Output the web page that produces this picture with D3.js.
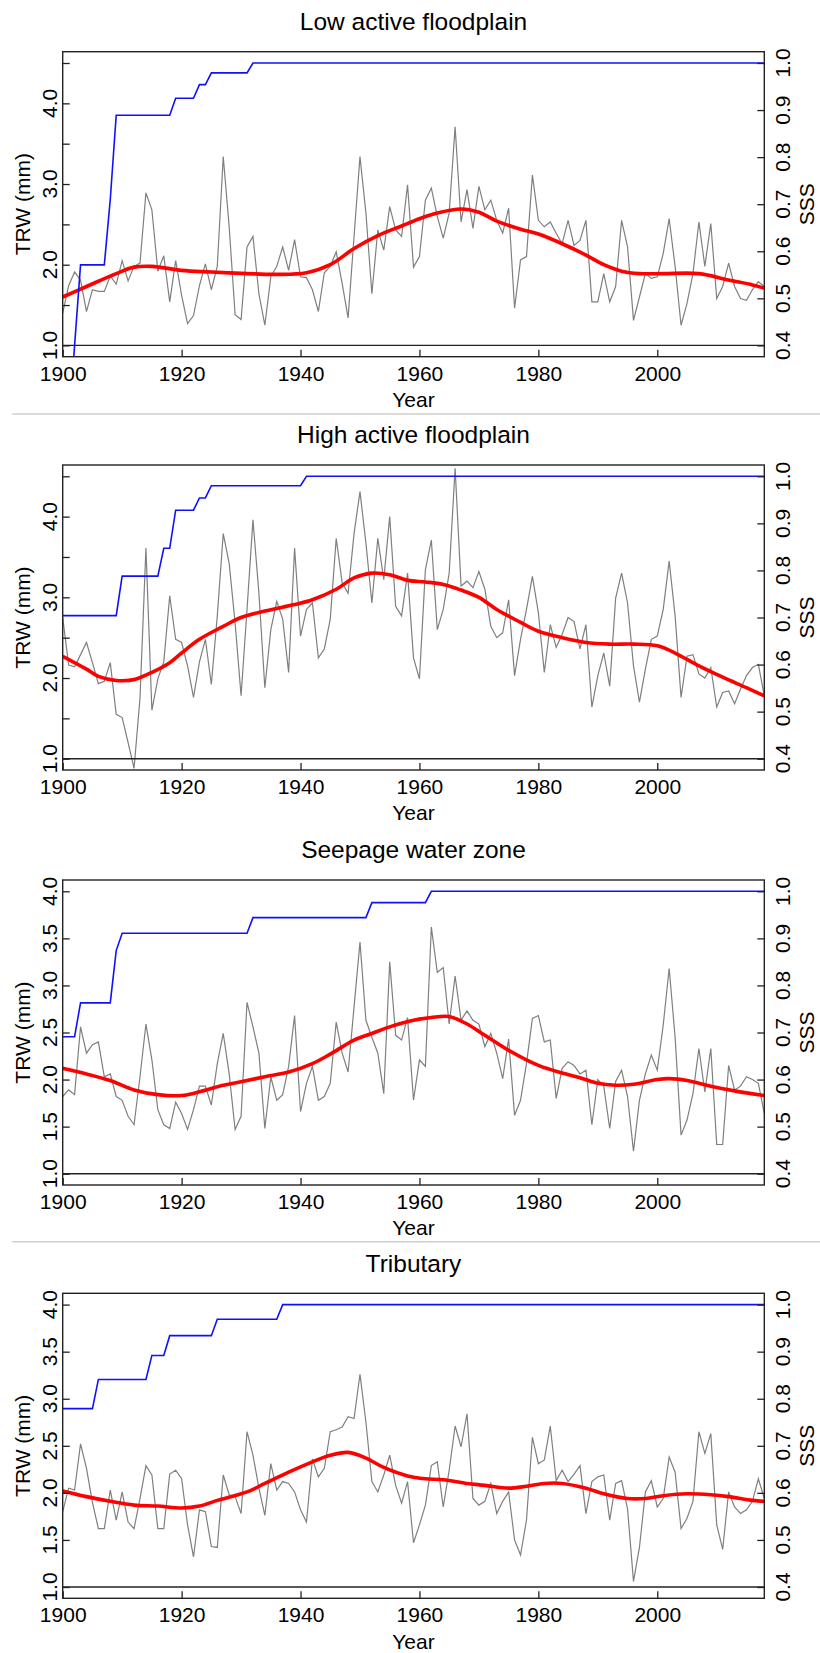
<!DOCTYPE html>
<html><head><meta charset="utf-8">
<script src="https://cdn.jsdelivr.net/npm/d3@7"></script>
<style>
body{margin:0;background:#fff}
text{font-family:"Liberation Sans",Arial,Helvetica,sans-serif;fill:#000}
</style>
</head><body><svg id="c" width="820" height="1653"></svg>
<script>
// ---------------- data ----------------
const titles = ["Low active floodplain", "High active floodplain", "Seepage water zone", "Tributary"];
const years = d3.range(1900, 2019);

const trw1 = [
 1.40,1.74,1.91,1.81,1.42,1.69,1.67,1.67,1.86,1.76,
 2.05,1.80,1.98,2.02,2.89,2.68,1.92,2.11,1.54,2.05,
 1.62,1.27,1.37,1.74,2.01,1.69,1.98,3.34,2.47,1.38,
 1.32,2.22,2.35,1.64,1.25,1.85,1.98,2.22,1.93,2.31,
 1.85,1.84,1.69,1.42,1.90,1.98,2.16,1.77,1.34,2.35,
 3.34,2.64,1.64,2.43,2.18,2.72,2.43,2.35,2.99,1.97,
 2.10,2.80,2.95,2.60,2.33,2.64,3.71,2.53,2.93,2.45,
 2.97,2.68,2.80,2.55,2.39,2.70,1.46,2.06,2.10,3.11,
 2.55,2.47,2.53,2.39,2.26,2.55,2.24,2.30,2.55,1.54,
 1.54,1.89,1.54,1.73,2.55,2.22,1.31,1.60,1.89,1.83,
 1.85,2.14,2.57,1.98,1.25,1.52,1.89,2.53,1.98,2.51,
 1.58,1.73,2.02,1.73,1.58,1.56,1.69,1.79,1.73];
const trw2 = [
 2.75,2.16,2.14,2.29,2.44,2.19,1.93,1.96,2.19,1.55,
 1.51,1.20,0.88,1.75,3.61,1.60,1.99,2.20,3.02,2.48,
 2.44,2.15,1.76,2.20,2.48,1.92,2.77,3.79,3.42,2.68,
 1.78,2.85,3.96,3.05,1.88,2.60,2.95,2.73,2.07,3.61,
 2.52,2.85,2.93,2.25,2.36,2.73,3.73,3.18,3.05,3.79,
 4.31,3.67,2.93,3.73,3.22,4.00,2.89,2.77,3.30,2.25,
 1.99,3.34,3.71,2.60,2.85,3.30,4.60,3.14,3.20,3.12,
 3.32,3.10,2.64,2.50,2.56,2.97,2.03,2.48,2.85,3.26,
 2.81,2.07,2.66,2.38,2.54,2.75,2.70,2.36,2.66,1.64,
 2.03,2.31,1.90,2.99,3.30,2.93,2.15,1.70,2.11,2.48,
 2.52,2.85,3.45,2.77,1.76,2.27,2.29,2.05,2.00,2.13,
 1.64,1.82,1.84,1.68,1.86,2.03,2.13,2.17,1.78];
const trw3 = [
 1.82,1.89,1.84,2.56,2.28,2.37,2.40,2.03,2.06,1.82,
 1.78,1.61,1.52,2.03,2.59,2.21,1.68,1.52,1.48,1.76,
 1.64,1.47,1.68,1.93,1.93,1.73,2.17,2.49,2.06,1.47,
 1.61,2.82,2.56,2.28,1.48,2.03,1.78,1.84,2.14,2.68,
 1.66,1.96,2.14,1.78,1.82,1.96,2.61,2.28,2.08,2.77,
 3.46,2.63,2.45,2.28,1.85,3.25,2.47,2.42,2.66,1.78,
 2.21,2.14,3.62,3.14,3.19,2.59,3.10,2.63,2.73,2.63,
 2.59,2.35,2.49,2.28,2.01,2.43,1.62,1.78,2.17,2.65,
 2.68,2.40,2.42,1.80,2.12,2.19,2.15,2.06,2.10,1.52,
 2.00,1.93,1.48,1.98,2.10,1.82,1.24,1.78,2.06,2.26,
 2.10,2.58,3.18,2.45,1.41,1.57,1.85,2.33,1.87,2.33,
 1.31,1.31,2.15,1.89,1.93,2.03,2.00,1.96,1.64];
const trw4 = [
 1.80,2.05,2.03,2.52,2.26,1.90,1.62,1.62,2.03,1.71,
 2.01,1.69,1.62,1.94,2.29,2.19,1.62,1.62,2.20,2.24,
 2.15,1.66,1.32,1.82,1.80,1.43,1.42,2.19,1.98,1.96,
 1.78,2.65,2.40,2.05,1.76,2.31,2.03,2.12,2.10,2.01,
 1.82,1.69,2.36,2.17,2.26,2.65,2.67,2.70,2.81,2.79,
 3.26,2.75,2.12,2.01,2.19,2.40,2.08,1.89,2.12,1.47,
 1.66,1.87,2.29,2.33,1.85,2.24,2.71,2.49,2.84,1.94,
 1.87,1.91,2.10,1.78,1.91,2.01,1.50,1.34,1.71,2.59,
 2.31,2.35,2.71,2.13,2.24,2.12,2.20,2.29,1.78,2.12,
 2.17,2.19,1.71,2.10,2.13,1.83,1.06,1.42,2.01,2.13,
 1.85,1.94,2.38,2.22,1.62,1.73,1.91,2.65,2.42,2.63,
 1.66,1.40,2.01,1.85,1.78,1.82,1.91,2.15,1.94];

// smoothed curves (read at knots)
const smYears1 = [1900,1904,1909,1912,1915,1920,1925,1931,1936,1941,1945,1949,1953,1957,1960,1963,1967,1970,1973,1977,1980,1984,1988,1991,1994,1997,2001,2007,2012,2016,2018];
const smVals1  = [1.60,1.73,1.89,1.97,1.98,1.93,1.91,1.89,1.88,1.90,2.00,2.20,2.36,2.48,2.57,2.64,2.69,2.65,2.54,2.44,2.38,2.26,2.12,2.00,1.92,1.89,1.89,1.89,1.81,1.75,1.71];
const smYears2 = [1900,1904,1906,1909,1912,1915,1918,1920,1923,1927,1930,1934,1939,1942,1946,1949,1952,1955,1958,1961,1964,1967,1970,1973,1977,1980,1984,1988,1992,1996,2000,2003,2007,2011,2015,2018];
const smVals2  = [2.27,2.11,2.02,1.97,1.98,2.07,2.19,2.31,2.48,2.64,2.75,2.83,2.91,2.97,3.10,3.24,3.30,3.28,3.21,3.19,3.16,3.09,3.00,2.85,2.69,2.58,2.50,2.44,2.42,2.42,2.40,2.31,2.15,2.01,1.88,1.78];
const smYears3 = [1900,1904,1908,1912,1916,1920,1923,1927,1931,1934,1938,1942,1945,1949,1952,1955,1959,1962,1965,1968,1971,1975,1980,1984,1987,1990,1993,1996,2000,2002,2005,2009,2013,2018];
const smVals3  = [2.12,2.06,1.99,1.89,1.84,1.83,1.87,1.94,1.99,2.03,2.08,2.17,2.27,2.42,2.49,2.56,2.63,2.66,2.67,2.59,2.47,2.31,2.15,2.07,2.02,1.96,1.94,1.95,2.00,2.01,1.99,1.93,1.88,1.83];
const smYears4 = [1900,1904,1908,1912,1916,1920,1923,1926,1931,1934,1938,1942,1945,1948,1951,1954,1958,1961,1964,1968,1971,1975,1978,1981,1984,1988,1991,1995,1998,2001,2005,2009,2012,2016,2018];
const smVals4  = [2.02,1.96,1.91,1.87,1.86,1.84,1.86,1.92,2.01,2.10,2.22,2.33,2.40,2.43,2.37,2.27,2.18,2.15,2.14,2.10,2.08,2.05,2.07,2.10,2.10,2.05,1.99,1.94,1.94,1.97,1.99,1.98,1.96,1.92,1.91];

// SSS (vertices of the annual polyline)
const sssYears1 = [1900,1901,1902,1903,1907,1908,1909,1918,1919,1922,1923,1924,1925,1931,1932,2018];
const sssVals1  = [0.10,0.21,0.40,0.571,0.571,0.71,0.889,0.889,0.925,0.925,0.954,0.954,0.979,0.979,1.0,1.0];
const sssYears2 = [1900,1909,1910,1916,1917,1918,1919,1922,1923,1924,1925,1940,1941,2018];
const sssVals2  = [0.704,0.704,0.788,0.788,0.847,0.847,0.928,0.928,0.954,0.954,0.980,0.980,1.0,1.0];
const sssYears3 = [1900,1902,1903,1908,1909,1910,1931,1932,1951,1952,1961,1962,2018];
const sssVals3  = [0.691,0.691,0.763,0.763,0.874,0.911,0.911,0.944,0.944,0.976,0.976,1.0,1.0];
const sssYears4 = [1900,1905,1906,1914,1915,1917,1918,1925,1926,1936,1937,2018];
const sssVals4  = [0.779,0.779,0.841,0.841,0.892,0.892,0.934,0.934,0.969,0.969,1.0,1.0];

const xTicks = [1900,1920,1940,1960,1980,2000];
const trwTicksHigh = [1.0,1.5,2.0,2.5,3.0,3.5,4.0,4.5];
const trwLabelsHigh = [1.0,2.0,3.0,4.0];
const trwTicksLow = [1.0,1.5,2.0,2.5,3.0,3.5,4.0];
const trwLabelsLow = [1.0,1.5,2.0,2.5,3.0,3.5,4.0];
const sssTicks = [0.4,0.5,0.6,0.7,0.8,0.9,1.0];
const trwLimHigh = [1, 4.5], trwLimLow = [1, 4], sssLim = [0.4, 1.0];

// ---------------- drawing ----------------
const panels = [
  {title: titles[0], trw: trw1, smY: smYears1, smV: smVals1, sY: sssYears1, sV: sssVals1, lim: trwLimHigh, ticks: trwTicksHigh, labels: trwLabelsHigh, off: 0},
  {title: titles[1], trw: trw2, smY: smYears2, smV: smVals2, sY: sssYears2, sV: sssVals2, lim: trwLimHigh, ticks: trwTicksHigh, labels: trwLabelsHigh, off: 413.3},
  {title: titles[2], trw: trw3, smY: smYears3, smV: smVals3, sY: sssYears3, sV: sssVals3, lim: trwLimLow, ticks: trwTicksLow, labels: trwLabelsLow, off: 828.3},
  {title: titles[3], trw: trw4, smY: smYears4, smV: smVals4, sY: sssYears4, sV: sssVals4, lim: trwLimLow, ticks: trwTicksLow, labels: trwLabelsLow, off: 1241.6}
];

const svg = d3.select("#c");
svg.append("rect").attr("width", 820).attr("height", 1653).attr("fill", "#fff");

// separators
[414, 1241.7].forEach(y => svg.append("line").attr("x1", 12).attr("x2", 820).attr("y1", y).attr("y2", y)
  .attr("stroke", "#cfcfcf").attr("stroke-width", 1.5));

const pad = (l) => { const r = l[1] - l[0]; return [l[0] - 0.04 * r, l[1] + 0.04 * r]; };
const fmt = d3.format(".1f");
const X0 = 62.7, X1 = 764.3, TICK = 7;

panels.forEach((p, i) => {
  const y0 = p.off + 51.7, y1 = p.off + 356.7;
  const g = svg.append("g");
  const x = d3.scaleLinear().domain([1900, 2018]).range([X0, X1]);
  const yL = d3.scaleLinear().domain(pad(p.lim)).range([y1, y0]);
  const yR = d3.scaleLinear().domain(pad(sssLim)).range([y1, y0]);

  const cid = "clip" + i;
  g.append("clipPath").attr("id", cid).append("rect")
    .attr("x", X0).attr("y", y0).attr("width", X1 - X0).attr("height", y1 - y0);
  const plot = g.append("g").attr("clip-path", `url(#${cid})`);

  // TRW raw series
  plot.append("path")
    .datum(years.map((yr, k) => [yr, p.trw[k]]))
    .attr("fill", "none").attr("stroke", "#7f7f7f").attr("stroke-width", 1.2)
    .attr("d", d3.line().x(d => x(d[0])).y(d => yL(d[1])));

  // smoothed
  plot.append("path")
    .datum(p.smY.map((yr, k) => [yr, p.smV[k]]))
    .attr("fill", "none").attr("stroke", "#ff0000").attr("stroke-width", 3.6)
    .attr("d", d3.line().curve(d3.curveCatmullRom.alpha(0.5)).x(d => x(d[0])).y(d => yL(d[1])));

  // SSS
  plot.append("path")
    .datum(p.sY.map((yr, k) => [yr, p.sV[k]]))
    .attr("fill", "none").attr("stroke", "#1010ff").attr("stroke-width", 1.6)
    .attr("d", d3.line().x(d => x(d[0])).y(d => yR(d[1])));

  // SSS = 0.4 reference line
  g.append("line").attr("x1", X0).attr("x2", X1).attr("y1", yR(0.4)).attr("y2", yR(0.4))
    .attr("stroke", "#222").attr("stroke-width", 1.4);

  // box
  g.append("rect").attr("x", X0).attr("y", y0).attr("width", X1 - X0).attr("height", y1 - y0)
    .attr("fill", "none").attr("stroke", "#222").attr("stroke-width", 1.4);

  // bottom axis (inward ticks)
  const bx = g.append("g").attr("transform", `translate(0,${y1})`)
    .call(d3.axisBottom(x).tickValues(xTicks).tickSize(-TICK).tickPadding(TICK + 6).tickFormat(d3.format("d")));
  bx.select(".domain").remove();
  bx.selectAll(".tick line").attr("stroke", "#222").attr("stroke-width", 1.3);
  bx.selectAll(".tick text").attr("font-size", 21).attr("font-family", '"Liberation Sans",Arial,sans-serif')
    .attr("y", null).attr("dy", null).attr("fill", "#000")
    .attr("transform", "translate(0,24)");

  // left axis
  const lx = g.append("g").attr("transform", `translate(${X0},0)`)
    .call(d3.axisLeft(yL).tickValues(p.ticks).tickSize(-TICK).tickFormat(""));
  lx.select(".domain").remove();
  lx.selectAll(".tick line").attr("stroke", "#222").attr("stroke-width", 1.3);
  g.selectAll(".ltl").data(p.labels).enter().append("text").attr("class", "ltl")
    .attr("transform", d => `translate(56.7,${yL(d)}) rotate(-90)`)
    .attr("text-anchor", "middle").attr("font-size", 21).text(d => fmt(d));

  // right axis
  const rx = g.append("g").attr("transform", `translate(${X1},0)`)
    .call(d3.axisRight(yR).tickValues(sssTicks).tickSize(-TICK).tickFormat(""));
  rx.select(".domain").remove();
  rx.selectAll(".tick line").attr("stroke", "#222").attr("stroke-width", 1.3);
  g.selectAll(".rtl").data(sssTicks).enter().append("text").attr("class", "rtl")
    .attr("transform", d => `translate(789.5,${yR(d)}) rotate(-90)`)
    .attr("text-anchor", "middle").attr("font-size", 21).text(d => fmt(d));

  // axis titles
  const yc = (y0 + y1) / 2;
  g.append("text").attr("transform", `translate(30,${yc}) rotate(-90)`).attr("text-anchor", "middle")
    .attr("font-size", 21).text("TRW (mm)");
  g.append("text").attr("transform", `translate(814,${yc}) rotate(-90)`).attr("text-anchor", "middle")
    .attr("font-size", 21).text("SSS");
  g.append("text").attr("x", (X0 + X1) / 2).attr("y", y1 + 50.3).attr("text-anchor", "middle")
    .attr("font-size", 21).text("Year");
  g.append("text").attr("x", (X0 + X1) / 2).attr("y", y0 - 21.7).attr("text-anchor", "middle")
    .attr("font-size", 24.5).text(p.title);
});
</script>
</body></html>
